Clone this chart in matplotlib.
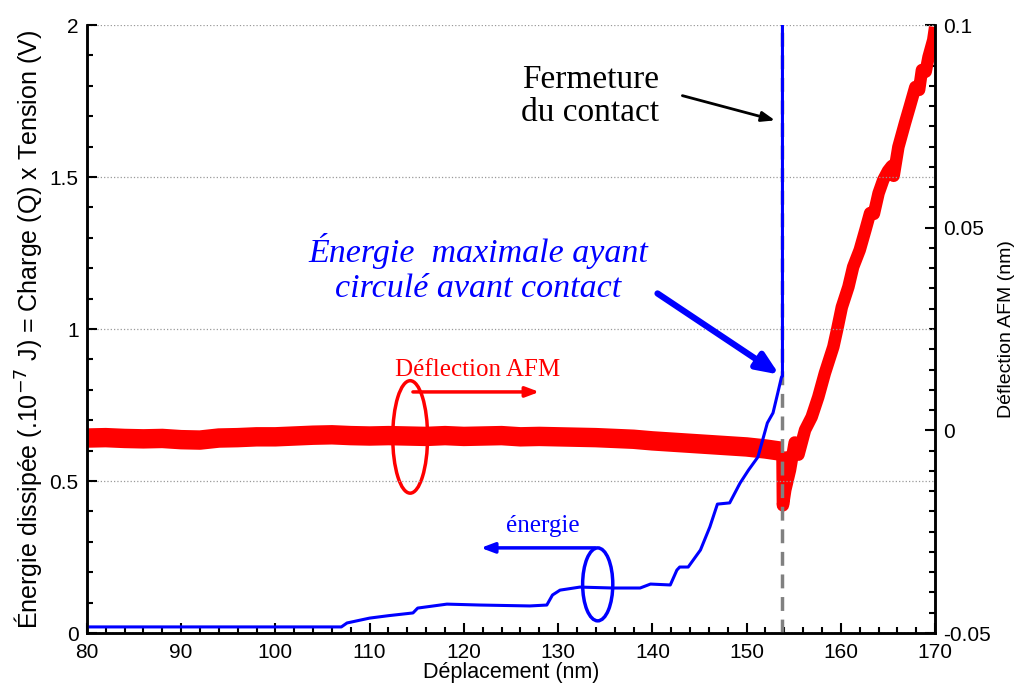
import matplotlib.pyplot as plt
from matplotlib.patches import Ellipse
from matplotlib.ticker import MultipleLocator

# Energy (left axis, .10^-7 J)
energy_x = [80, 107, 107.6, 110, 112, 114.6, 115.1, 118.2, 121.7, 127, 128.8, 129.4, 130.2,
            132.3, 135.8, 138.7, 139.8, 141.9, 142.6, 142.9, 143.8, 145.1, 146.1, 146.9,
            148.2, 149.3, 150.2, 151.2, 151.7, 152.2, 152.8, 153.3, 153.7, 153.8, 153.8]
energy_y = [0.020, 0.020, 0.033, 0.049, 0.057, 0.066, 0.082, 0.095, 0.092, 0.089, 0.092, 0.125, 0.141,
            0.151, 0.148, 0.148, 0.161, 0.158, 0.207, 0.217, 0.217, 0.273, 0.349, 0.424,
            0.428, 0.493, 0.536, 0.579, 0.635, 0.691, 0.724, 0.789, 0.842, 0.845, 2.0]

# AFM deflection (right axis, nm) - before contact
defl_flat_x = [80, 82, 84, 86, 88, 90, 92, 94, 96, 98, 100, 102, 104, 106, 108, 110, 112, 114,
               116, 118, 120, 122, 124, 126, 128, 130, 132, 134, 136, 138, 140, 142, 144, 146,
               148, 150, 152, 153.8]
defl_flat_y = [-0.0019, -0.0018, -0.0020, -0.0021, -0.0020, -0.0023, -0.0024, -0.0019, -0.0018,
               -0.0016, -0.0016, -0.0014, -0.0012, -0.0011, -0.0013, -0.0014, -0.0013, -0.0014,
               -0.0015, -0.0013, -0.0015, -0.0014, -0.0013, -0.0016, -0.0015, -0.0016, -0.0017,
               -0.0018, -0.0020, -0.0022, -0.0026, -0.0029, -0.0032, -0.0035, -0.0038, -0.0041,
               -0.0046, -0.0052]

# AFM deflection - after contact
defl_rise_x = [153.8, 153.85, 154.1, 154.6, 155.1, 155.5, 156.2, 156.9, 157.6, 158.3, 159.2,
               159.6, 160.1, 160.8, 161.3, 162.0, 162.6, 163.1, 163.5, 164.0, 164.5, 165.0,
               165.4, 165.6, 166.1, 166.8, 167.3, 167.9, 168.3, 168.6, 169.0, 169.3, 169.8, 170.0]
defl_rise_y = [-0.0052, -0.0185, -0.0147, -0.0098, -0.0030, -0.0060, 0.0001, 0.0033, 0.0082,
               0.0141, 0.0206, 0.0248, 0.0304, 0.0354, 0.0403, 0.0445, 0.0494, 0.0536, 0.0534,
               0.0585, 0.0618, 0.0640, 0.0652, 0.0628, 0.0699, 0.0758, 0.0798, 0.0847, 0.0840,
               0.0889, 0.0885, 0.0921, 0.0963, 0.0995]

x_contact = 153.8

sans = ['Liberation Sans', 'DejaVu Sans']
serif = ['Liberation Serif', 'DejaVu Serif']
plt.rcParams['font.family'] = sans

fig = plt.figure(figsize=(10.22, 6.87), dpi=100)
ax = fig.add_axes([0.085, 0.0786, 0.83, 0.885])
ax2 = ax.twinx()
ax.set_zorder(ax2.get_zorder() + 1)
ax.patch.set_visible(False)

# red deflection on right axis
ax2.plot(defl_flat_x, defl_flat_y, color='#ff0000', lw=14, solid_capstyle='butt')
ax2.plot(defl_rise_x, defl_rise_y, color='#ff0000', lw=9, solid_joinstyle='round', solid_capstyle='butt')

# contact line + energy
ax.plot([x_contact, x_contact], [0, 2], color='#808080', lw=2.5, ls=(0, (4, 2.5)))
ax.plot(energy_x, energy_y, color='#0000ff', lw=2.2)

ax.set_xlim(80, 170)
ax.set_ylim(0, 2)
ax2.set_ylim(-0.05, 0.1)

ax.set_xticks(range(80, 171, 10))
ax.xaxis.set_minor_locator(MultipleLocator(2))
ax.set_yticks([0, 0.5, 1, 1.5, 2])
ax.set_yticklabels(['0', '0.5', '1', '1.5', '2'])
ax.yaxis.set_minor_locator(MultipleLocator(0.1))
ax2.set_yticks([-0.05, 0, 0.05, 0.1])
ax2.set_yticklabels(['-0.05', '0', '0.05', '0.1'])
ax2.yaxis.set_minor_locator(MultipleLocator(0.005))

ax.tick_params(axis='both', which='both', direction='in', width=1.5, labelsize=15, right=False, top=False)
ax.tick_params(axis='both', which='major', length=7)
ax.tick_params(axis='both', which='minor', length=4)
ax.tick_params(axis='x', which='major', pad=7)
ax.tick_params(axis='y', which='major', pad=6)
ax2.tick_params(axis='y', which='both', direction='in', width=1.5, labelsize=15)
ax2.tick_params(axis='y', which='major', length=7, pad=6)
ax2.tick_params(axis='y', which='minor', length=4)

for a in (ax, ax2):
    a.spines['top'].set_visible(False)
    for s in ('left', 'right', 'bottom'):
        a.spines[s].set_linewidth(1.8)

ax.yaxis.grid(True, which='major', ls=':', color='#999999', lw=0.9)

ax.set_xlabel('Déplacement (nm)', fontsize=15.5, labelpad=0)
ax.set_ylabel('Énergie dissipée (.10$^{-7}$ J) = Charge (Q) x Tension (V)', fontsize=18, labelpad=4)
ax2.set_ylabel('Déflection AFM (nm)', fontsize=14, labelpad=5)

# annotations
ax.text(133.4, 1.766, 'Fermeture\ndu contact', family=serif, fontsize=24, ha='center', va='center',
        linespacing=1.1)
ax.annotate('', xy=(153.3, 1.684), xytext=(142.9, 1.77),
            arrowprops=dict(arrowstyle='-|>,head_length=0.8,head_width=0.3', color='black', lw=2))

ax.text(121.5, 1.20, 'Énergie  maximale ayant\ncirculé avant contact', family=serif, style='italic',
        fontsize=24.5, ha='center', va='center', color='#0000ff', linespacing=1.2)
ax.annotate('', xy=(153.7, 0.845), xytext=(140.3, 1.122),
            arrowprops=dict(arrowstyle='-|>,head_length=1.3,head_width=0.55', color='#0000ff', lw=4.5))

ax.text(121.5, 0.865, 'Déflection AFM', family=serif, fontsize=18, ha='center', va='center',
        color='#ff0000')
ax.annotate('', xy=(128.3, 0.793), xytext=(114.3, 0.793),
            arrowprops=dict(arrowstyle='-|>,head_length=0.8,head_width=0.3', color='#ff0000', lw=2.5))
ax.add_patch(Ellipse((114.3, 0.645), 3.7, 0.37, fill=False, ec='#ff0000', lw=2.5))

ax.text(128.4, 0.352, 'énergie', family=serif, fontsize=18, ha='center', va='center', color='#0000ff')
ax.annotate('', xy=(121.5, 0.28), xytext=(134.2, 0.28),
            arrowprops=dict(arrowstyle='-|>,head_length=0.8,head_width=0.3', color='#0000ff', lw=2.5))
ax.add_patch(Ellipse((134.2, 0.16), 3.2, 0.24, fill=False, ec='#0000ff', lw=2.5))

fig.savefig('out.png', dpi=100)
